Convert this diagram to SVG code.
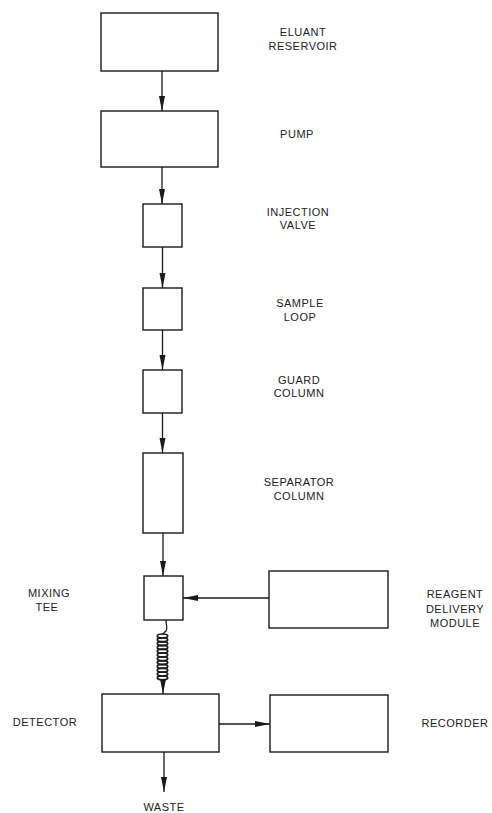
<svg xmlns="http://www.w3.org/2000/svg" width="492" height="813" viewBox="0 0 492 813">
<defs>
<style>
.box{fill:none;stroke:#1a1a1a;stroke-width:1.4}
.ln{fill:none;stroke:#1a1a1a;stroke-width:1.3}
.lbl{font-family:"Liberation Sans",Arial,sans-serif;font-size:11px;fill:#222;text-anchor:middle;letter-spacing:0.5px}
.coil ellipse{fill:none;stroke:#1a1a1a;stroke-width:1.7}
</style>
<marker id="ah" markerWidth="16" markerHeight="7" refX="15" refY="3.5" orient="auto" markerUnits="userSpaceOnUse">
<path d="M0,0.5 L15,3.5 L0,6.5 Z" fill="#1a1a1a"/>
</marker>
</defs>
<rect width="492" height="813" fill="#fff"/>

<g id="eluant-reservoir">
<rect class="box" x="101" y="13" width="117" height="58"/>
<text class="lbl" x="303" y="36">ELUANT</text>
<text class="lbl" x="303" y="50">RESERVOIR</text>
</g>
<g id="pump">
<rect class="box" x="101" y="111" width="117" height="56"/>
<text class="lbl" x="297" y="138">PUMP</text>
</g>
<g id="injection-valve">
<rect class="box" x="143" y="204" width="39" height="43"/>
<text class="lbl" x="298" y="216">INJECTION</text>
<text class="lbl" x="298" y="229">VALVE</text>
</g>
<g id="sample-loop">
<rect class="box" x="143" y="288" width="39" height="42"/>
<text class="lbl" x="300" y="307">SAMPLE</text>
<text class="lbl" x="300" y="321">LOOP</text>
</g>
<g id="guard-column">
<rect class="box" x="143" y="370" width="39" height="43"/>
<text class="lbl" x="299" y="384">GUARD</text>
<text class="lbl" x="299" y="397">COLUMN</text>
</g>
<g id="separator-column">
<rect class="box" x="143" y="453" width="40" height="80"/>
<text class="lbl" x="299" y="486">SEPARATOR</text>
<text class="lbl" x="299" y="500">COLUMN</text>
</g>
<g id="mixing-tee">
<rect class="box" x="144" y="576" width="39" height="44"/>
<text class="lbl" x="49" y="597">MIXING</text>
<text class="lbl" x="47" y="611">TEE</text>
</g>
<g id="reagent-delivery-module">
<rect class="box" x="269" y="571" width="119" height="57"/>
<text class="lbl" x="455" y="598">REAGENT</text>
<text class="lbl" x="455" y="613">DELIVERY</text>
<text class="lbl" x="455" y="627">MODULE</text>
</g>
<g id="detector">
<rect class="box" x="102" y="694" width="117" height="58"/>
<text class="lbl" x="45" y="726">DETECTOR</text>
</g>
<g id="recorder">
<rect class="box" x="270" y="695" width="118" height="57"/>
<text class="lbl" x="455" y="727">RECORDER</text>
</g>
<g id="waste">
<text class="lbl" x="164" y="811">WASTE</text>
</g>

<g id="connectors">
<line class="ln" x1="162" y1="71" x2="162" y2="111" marker-end="url(#ah)"/>
<line class="ln" x1="162" y1="167" x2="162" y2="204" marker-end="url(#ah)"/>
<line class="ln" x1="162.5" y1="247" x2="162.5" y2="288" marker-end="url(#ah)"/>
<line class="ln" x1="162.5" y1="330" x2="162.5" y2="370" marker-end="url(#ah)"/>
<line class="ln" x1="162.5" y1="413" x2="162.5" y2="453" marker-end="url(#ah)"/>
<line class="ln" x1="163" y1="533" x2="163" y2="576" marker-end="url(#ah)"/>
<line class="ln" x1="269" y1="598" x2="183" y2="598" stroke-width="1.6" marker-end="url(#ah)"/>
<line class="ln" x1="219" y1="724" x2="270" y2="724" stroke-width="1.6" marker-end="url(#ah)"/>
<line class="ln" x1="164" y1="752" x2="164" y2="792" marker-end="url(#ah)"/>
<path class="ln" d="M166,620 C166,626 168,628 166,631 C164,633 163,633 163,635"/>
<g class="coil">
<ellipse cx="162.5" cy="636" rx="5.2" ry="2"/>
<ellipse cx="162.5" cy="639.8" rx="5.2" ry="2"/>
<ellipse cx="162.5" cy="643.6" rx="5.2" ry="2"/>
<ellipse cx="162.5" cy="647.4" rx="5.2" ry="2"/>
<ellipse cx="162.5" cy="651.2" rx="5.2" ry="2"/>
<ellipse cx="162.5" cy="655" rx="5.2" ry="2"/>
<ellipse cx="162.5" cy="658.8" rx="5.2" ry="2"/>
<ellipse cx="162.5" cy="662.6" rx="5.2" ry="2"/>
<ellipse cx="162.5" cy="666.4" rx="5.2" ry="2"/>
<ellipse cx="162.5" cy="670.2" rx="5.2" ry="2"/>
<ellipse cx="162.5" cy="674" rx="5.2" ry="2"/>
<ellipse cx="162.5" cy="677.8" rx="5.2" ry="2"/>
</g>
<path class="ln" d="M163,680 C163,684 164,686 163,688 L163,694" marker-end="url(#ah)"/>
</g>
</svg>
